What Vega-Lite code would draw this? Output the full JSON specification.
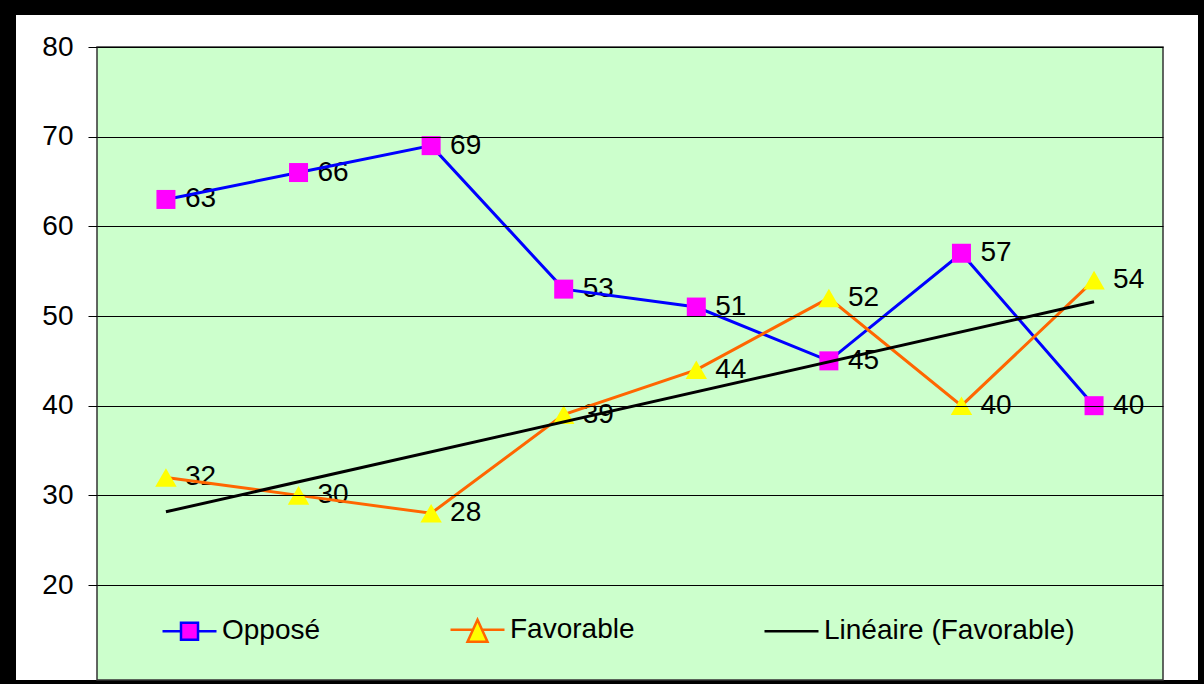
{
  "$schema": "https://vega.github.io/schema/vega-lite/v6.json",
  "width": 1182,
  "height": 665,
  "autosize": {"type": "none"},
  "padding": {"left": 16, "top": 15, "right": 6, "bottom": 4},
  "background": "#000000",
  "config": {
    "view": {"fill": "#FFFFFF", "stroke": null},
    "font": "Liberation Sans"
  },
  "data": {
    "values": [
      {"idx": 1, "series": "Opposé", "value": 63},
      {"idx": 2, "series": "Opposé", "value": 66},
      {"idx": 3, "series": "Opposé", "value": 69},
      {"idx": 4, "series": "Opposé", "value": 53},
      {"idx": 5, "series": "Opposé", "value": 51},
      {"idx": 6, "series": "Opposé", "value": 45},
      {"idx": 7, "series": "Opposé", "value": 57},
      {"idx": 8, "series": "Opposé", "value": 40},
      {"idx": 1, "series": "Favorable", "value": 32},
      {"idx": 2, "series": "Favorable", "value": 30},
      {"idx": 3, "series": "Favorable", "value": 28},
      {"idx": 4, "series": "Favorable", "value": 39},
      {"idx": 5, "series": "Favorable", "value": 44},
      {"idx": 6, "series": "Favorable", "value": 52},
      {"idx": 7, "series": "Favorable", "value": 40},
      {"idx": 8, "series": "Favorable", "value": 54}
    ]
  },
  "encoding": {
    "x": {
      "field": "idx",
      "type": "quantitative",
      "scale": {"domain": [0.48, 8.52], "range": [81, 1147], "nice": false, "zero": false},
      "axis": null
    },
    "y": {
      "field": "value",
      "type": "quantitative",
      "scale": {"domain": [9.41, 80], "range": [665, 32], "nice": false, "zero": false},
      "axis": {
        "values": [20, 30, 40, 50, 60, 70, 80],
        "title": null,
        "offset": -81,
        "zindex": 1,
        "grid": true,
        "gridColor": "#000000",
        "gridWidth": 1,
        "gridOpacity": 1,
        "domain": false,
        "ticks": true,
        "tickSize": 9,
        "tickColor": "#000000",
        "tickWidth": 1,
        "labelPadding": 15,
        "labelFontSize": 28,
        "labelFont": "Liberation Sans",
        "labelColor": "#000000"
      }
    }
  },
  "layer": [
    {
      "transform": [{"filter": "datum.idx === 1 && datum.series === 'Opposé'"}],
      "mark": {"type": "rect", "fill": "#CCFFCC", "stroke": "#333333", "strokeWidth": 1.5},
      "encoding": {
        "x": {"datum": 0.48},
        "x2": {"datum": 8.52},
        "y": {"datum": 80},
        "y2": {"datum": 9.41}
      }
    },
    {
      "mark": {"type": "text", "align": "left", "baseline": "middle", "dx": 19, "fontSize": 28, "font": "Liberation Sans", "color": "#000000"},
      "encoding": {"text": {"field": "value", "type": "quantitative"}}
    },
    {
      "mark": {"type": "line", "strokeWidth": 3},
      "encoding": {
        "color": {
          "field": "series",
          "type": "nominal",
          "scale": {
            "domain": ["Opposé", "Favorable", "Linéaire (Favorable)"],
            "range": ["#0000FF", "#FF6600", "#000000"]
          },
          "legend": {
            "orient": "none",
            "legendX": 145,
            "legendY": 586,
            "direction": "horizontal",
            "columns": 3,
            "gridAlign": "each",
            "columnPadding": 124,
            "title": null,
            "padding": 0,
            "labelFontSize": 28,
            "labelFont": "Liberation Sans",
            "labelColor": "#000000",
            "labelOffset": 4,
            "labelLimit": 0,
            "symbolSize": 2916,
            "symbolStrokeWidth": 2.5,
            "encode": {
              "symbols": {
                "update": {
                  "shape": {"signal": "datum.value === 'Opposé' ? 'M-1,0H-0.315M0.315,0H1M-0.315,-0.315H0.315V0.315H-0.315Z' : datum.value === 'Favorable' ? 'M-1,0H-0.17M0.17,0H1M0,-0.37L0.37,0.44H-0.37Z' : 'M-1,0H1'"},
                  "fill": {"signal": "datum.value === 'Opposé' ? '#FF00FF' : datum.value === 'Favorable' ? '#FFFF00' : 'transparent'"}
                }
              }
            }
          }
        }
      }
    },
    {
      "transform": [{"filter": "datum.series === 'Opposé'"}],
      "mark": {"type": "point", "shape": "square", "filled": true, "fill": "#FF00FF", "opacity": 1, "size": 361, "strokeWidth": 0}
    },
    {
      "transform": [{"filter": "datum.series === 'Favorable'"}],
      "mark": {"type": "point", "shape": "triangle-up", "filled": true, "fill": "#FFFF00", "opacity": 1, "size": 460, "strokeWidth": 0}
    },
    {
      "transform": [
        {"filter": "datum.series === 'Favorable'"},
        {"regression": "value", "on": "idx"}
      ],
      "mark": {"type": "line", "strokeWidth": 3},
      "encoding": {"color": {"datum": "Linéaire (Favorable)"}}
    }
  ]
}
